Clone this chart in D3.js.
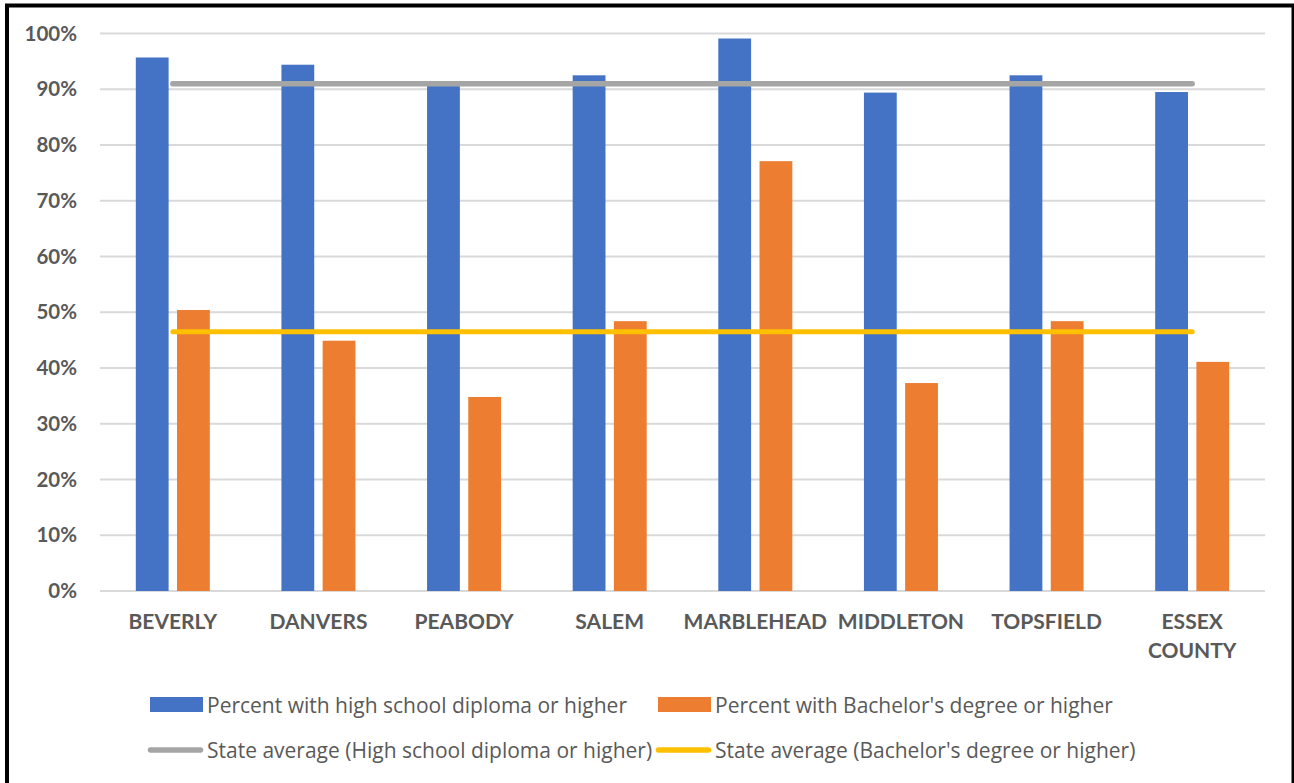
<!DOCTYPE html>
<html>
<head>
<meta charset="utf-8">
<script src="https://cdn.jsdelivr.net/npm/d3@7/dist/d3.min.js"></script>
<style>
  html, body { margin: 0; padding: 0; background: #ffffff; overflow: hidden; }
  svg { display: block; }
</style>
</head>
<body>
<svg id="chart" width="1294" height="783"></svg>
<script>
// Educational attainment by community (percent of adults 25+)
const categories = ["BEVERLY", "DANVERS", "PEABODY", "SALEM", "MARBLEHEAD", "MIDDLETON", "TOPSFIELD", "ESSEX COUNTY"];
const highSchoolPct = [95.7, 94.4, 90.9, 92.5, 99.1, 89.4, 92.5, 89.5];
const bachelorPct   = [50.4, 44.9, 34.8, 48.4, 77.1, 37.3, 48.4, 41.1];
const stateHighSchoolAvg = 91.0;
const stateBachelorAvg = 46.5;
const yTickValues = [0, 10, 20, 30, 40, 50, 60, 70, 80, 90, 100];

const seriesNames = ["Percent with high school diploma or higher", "Percent with Bachelor's degree or higher"];
const lineNames = ["State average (High school diploma or higher)", "State average (Bachelor's degree or higher)"];

const colors = { hs: "#4472c4", ba: "#ed7d31", hsAvg: "#a5a5a5", baAvg: "#ffc000", text: "#595959", grid: "#d9d9d9" };

const svg = d3.select("#chart");

// outer frame
svg.append("rect")
  .attr("x", 7).attr("y", 5.5)
  .attr("width", 1286.5).attr("height", 800)
  .attr("fill", "none").attr("stroke", "#000").attr("stroke-width", 4);

const plot = { left: 100, right: 1265, top: 33.5, bottom: 591 };

const x = d3.scaleBand().domain(categories).range([plot.left, plot.right]).padding(0);
const xInner = d3.scaleBand().domain(["hs", "ba"]).range([0, x.bandwidth()])
  .paddingInner(0.204).paddingOuter(0.869);
const y = d3.scaleLinear().domain([0, 100]).range([plot.bottom, plot.top]);

// gridlines
svg.append("g").selectAll("line").data(yTickValues).join("line")
  .attr("x1", plot.left).attr("x2", plot.right)
  .attr("y1", d => y(d)).attr("y2", d => y(d))
  .attr("stroke", colors.grid).attr("stroke-width", 2);

// y axis labels
const yAxis = d3.axisLeft(y).tickValues(yTickValues).tickFormat(d => d + "%").tickSize(0).tickPadding(0);
const yG = svg.append("g").attr("transform", "translate(77,0)").call(yAxis);
yG.select(".domain").remove();
yG.selectAll("text")
  .attr("fill", colors.text)
  .style("font-family", "Lato, 'Open Sans', sans-serif")
  .style("font-weight", "700")
  .style("font-size", "20.5px");

// bars
const rows = categories.map((c, i) => ({ c, hs: highSchoolPct[i], ba: bachelorPct[i] }));
const groups = svg.append("g").selectAll("g").data(rows).join("g")
  .attr("transform", d => `translate(${x(d.c)},0)`);
groups.append("rect")
  .attr("x", xInner("hs")).attr("width", xInner.bandwidth())
  .attr("y", d => y(d.hs)).attr("height", d => y(0) - y(d.hs))
  .attr("fill", colors.hs);
groups.append("rect")
  .attr("x", xInner("ba")).attr("width", xInner.bandwidth())
  .attr("y", d => y(d.ba)).attr("height", d => y(0) - y(d.ba))
  .attr("fill", colors.ba);

// state average lines
const cx = c => x(c) + x.bandwidth() / 2;
const line = d3.line().x(d => cx(d.c)).y(d => y(d.v));
svg.append("path")
  .datum(categories.map(c => ({ c, v: stateHighSchoolAvg })))
  .attr("d", line).attr("fill", "none")
  .attr("stroke", colors.hsAvg).attr("stroke-width", 5.5).attr("stroke-linecap", "round");
svg.append("path")
  .datum(categories.map(c => ({ c, v: stateBachelorAvg })))
  .attr("d", line).attr("fill", "none")
  .attr("stroke", colors.baAvg).attr("stroke-width", 5).attr("stroke-linecap", "round");

// category labels (wrapped on spaces)
const catLabels = svg.append("g").selectAll("text").data(categories).join("text")
  .attr("x", d => cx(d)).attr("y", 629)
  .attr("text-anchor", "middle")
  .attr("fill", colors.text)
  .style("font-family", "Lato, 'Open Sans', sans-serif")
  .style("font-weight", "700")
  .style("font-size", "21px");
catLabels.each(function (d) {
  const words = d.split(" ");
  d3.select(this).selectAll("tspan").data(words).join("tspan")
    .attr("x", cx(d)).attr("dy", (w, i) => i === 0 ? 0 : 29)
    .text(w => w);
});

// legend
const legend = svg.append("g")
  .style("font-family", "'Open Sans', Lato, sans-serif")
  .style("font-size", "21px");
const legendCols = [150, 658];
const legendRows = [704.5, 750];

[colors.hs, colors.ba].forEach((col, i) => {
  legend.append("rect")
    .attr("x", legendCols[i]).attr("y", legendRows[0] - 7.5)
    .attr("width", 53).attr("height", 15).attr("fill", col);
  legend.append("text")
    .attr("x", legendCols[i] + 57).attr("y", legendRows[0])
    .attr("dominant-baseline", "central").attr("fill", colors.text)
    .text(seriesNames[i]);
});
[colors.hsAvg, colors.baAvg].forEach((col, i) => {
  legend.append("line")
    .attr("x1", legendCols[i] + 0.5).attr("x2", legendCols[i] + 50.5)
    .attr("y1", legendRows[1]).attr("y2", legendRows[1])
    .attr("stroke", col).attr("stroke-width", 5.5).attr("stroke-linecap", "round");
  legend.append("text")
    .attr("x", legendCols[i] + 57).attr("y", legendRows[1])
    .attr("dominant-baseline", "central").attr("fill", colors.text)
    .text(lineNames[i]);
});
</script>
</body>
</html>
